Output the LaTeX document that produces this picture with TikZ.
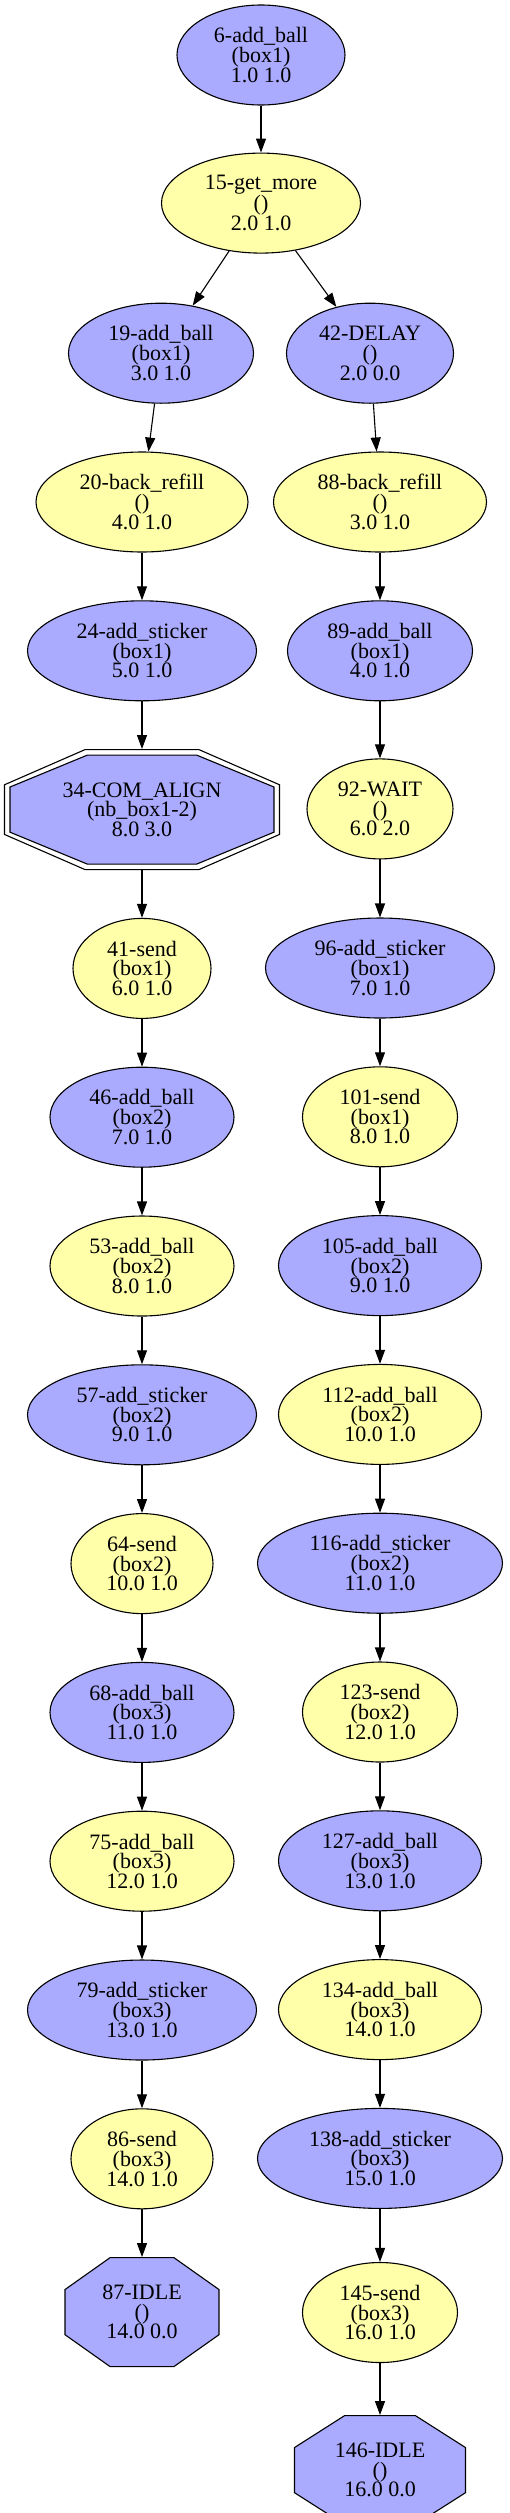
\documentclass[tikz,border=0pt]{standalone}
\usepackage{fontspec}
\setmainfont{Liberation Serif}
\definecolor{colorAction}{HTML}{AAAAFF}
\definecolor{colorWait}{HTML}{FFFFAA}
\usetikzlibrary{arrows.meta, positioning, shapes.geometric, backgrounds}
\tikzset{
  actnode/.style={ellipse, draw, fill=colorAction, minimum height=100pt, inner sep=0pt, minimum width=#1},
  waitnode/.style={ellipse, draw, fill=colorWait, minimum height=100pt, inner sep=0pt, minimum width=#1},
  octnode/.style 2 args={rectangle, inner sep=0pt, minimum width=#1, minimum height=#2},
  octline/.style={draw=black, line width=1.1pt}
}
\newcommand{\octagonshape}[4]{%
  \path[octline, #1, shift={(#2.center)}, xscale=#3, yscale=#4] (22.5:1.0824)
    \foreach \a in {67.5,112.5,...,337.5} {-- (\a:1.0824)} -- cycle;}

\begin{document}
\begin{tikzpicture}[>={Triangle[length=14pt, width=10pt]}, x=1pt, y=1pt, line width=1.1pt, node distance=47.7pt, every node/.style={align=center, font=\fontsize{22}{19.7}\selectfont}]
\useasboundingbox (0,0) rectangle (509,-2513);
\node[actnode=168pt] (a6) at (261,-55) {6-add\_ball\\(box1)\\1.0 1.0};
\node[waitnode=199pt, below=47pt of a6] (a15) {15-get\_more\\()\\2.0 1.0};
\node[actnode=185pt, below=49pt of a15, xshift=-100pt] (a19) {19-add\_ball\\(box1)\\3.0 1.0};
\node[actnode=167pt, below=49pt of a15, xshift=109pt] (a42) {42-DELAY\\()\\2.0 0.0};
\node[waitnode=212pt, below=of a19, xshift=-19pt] (a20) {20-back\_refill\\()\\4.0 1.0};
\node[actnode=229pt, below=of a20] (a24) {24-add\_sticker\\(box1)\\5.0 1.0};
\node[octnode={275pt}{120pt}, below=of a24] (a34) {34-COM\_ALIGN\\(nb\_box1-2)\\8.0 3.0};
\node[waitnode=138pt, below=of a34] (a41) {41-send\\(box1)\\6.0 1.0};
\node[actnode=184pt, below=of a41] (a46) {46-add\_ball\\(box2)\\7.0 1.0};
\node[waitnode=184pt, below=of a46] (a53) {53-add\_ball\\(box2)\\8.0 1.0};
\node[actnode=229pt, below=of a53] (a57) {57-add\_sticker\\(box2)\\9.0 1.0};
\node[waitnode=142pt, below=of a57] (a64) {64-send\\(box2)\\10.0 1.0};
\node[actnode=184pt, below=of a64] (a68) {68-add\_ball\\(box3)\\11.0 1.0};
\node[waitnode=184pt, below=of a68] (a75) {75-add\_ball\\(box3)\\12.0 1.0};
\node[actnode=229pt, below=of a75] (a79) {79-add\_sticker\\(box3)\\13.0 1.0};
\node[waitnode=142pt, below=of a79] (a86) {86-send\\(box3)\\14.0 1.0};
\node[octnode={154pt}{109pt}, below=of a86] (a87) {87-IDLE\\()\\14.0 0.0};
\node[waitnode=213pt, below=of a42, xshift=10pt] (a88) {88-back\_refill\\()\\3.0 1.0};
\node[actnode=185pt, below=of a88] (a89) {89-add\_ball\\(box1)\\4.0 1.0};
\node[waitnode=146pt, below=57pt of a89] (a92) {92-WAIT\\()\\6.0 2.0};
\node[actnode=229pt, below=58pt of a92] (a96) {96-add\_sticker\\(box1)\\7.0 1.0};
\node[waitnode=155pt, below=of a96] (a101) {101-send\\(box1)\\8.0 1.0};
\node[actnode=203pt, below=of a101] (a105) {105-add\_ball\\(box2)\\9.0 1.0};
\node[waitnode=203pt, below=of a105] (a112) {112-add\_ball\\(box2)\\10.0 1.0};
\node[actnode=245pt, below=of a112] (a116) {116-add\_sticker\\(box2)\\11.0 1.0};
\node[waitnode=155pt, below=of a116] (a123) {123-send\\(box2)\\12.0 1.0};
\node[actnode=203pt, below=of a123] (a127) {127-add\_ball\\(box3)\\13.0 1.0};
\node[waitnode=203pt, below=of a127] (a134) {134-add\_ball\\(box3)\\14.0 1.0};
\node[actnode=245pt, below=of a134] (a138) {138-add\_sticker\\(box3)\\15.0 1.0};
\node[waitnode=155pt, below=53pt of a138] (a145) {145-send\\(box3)\\16.0 1.0};
\node[octnode={171pt}{109pt}, below=52pt of a145] (a146) {146-IDLE\\()\\16.0 0.0};
\begin{scope}[on background layer]
\octagonshape{}{a34}{137.5}{60}
\octagonshape{fill=colorAction}{a34}{132}{54.5}
\octagonshape{fill=colorAction}{a87}{77}{54.5}
\octagonshape{fill=colorAction}{a146}{85.5}{54.5}
\end{scope}
\draw [->] (a6) edge (a15);
\draw [->] (a15) edge (a19);
\draw [->] (a15) edge (a42);
\draw [->] (a19) edge (a20);
\draw [->] (a20) edge (a24);
\draw [->] (a24) edge (a34);
\draw [->] (a34) edge (a41);
\draw [->] (a41) edge (a46);
\draw [->] (a46) edge (a53);
\draw [->] (a53) edge (a57);
\draw [->] (a57) edge (a64);
\draw [->] (a64) edge (a68);
\draw [->] (a68) edge (a75);
\draw [->] (a75) edge (a79);
\draw [->] (a79) edge (a86);
\draw [->] (a86) edge (a87);
\draw [->] (a42) edge (a88);
\draw [->] (a88) edge (a89);
\draw [->] (a89) edge (a92);
\draw [->] (a92) edge (a96);
\draw [->] (a96) edge (a101);
\draw [->] (a101) edge (a105);
\draw [->] (a105) edge (a112);
\draw [->] (a112) edge (a116);
\draw [->] (a116) edge (a123);
\draw [->] (a123) edge (a127);
\draw [->] (a127) edge (a134);
\draw [->] (a134) edge (a138);
\draw [->] (a138) edge (a145);
\draw [->] (a145) edge (a146);
\end{tikzpicture}
\end{document}
